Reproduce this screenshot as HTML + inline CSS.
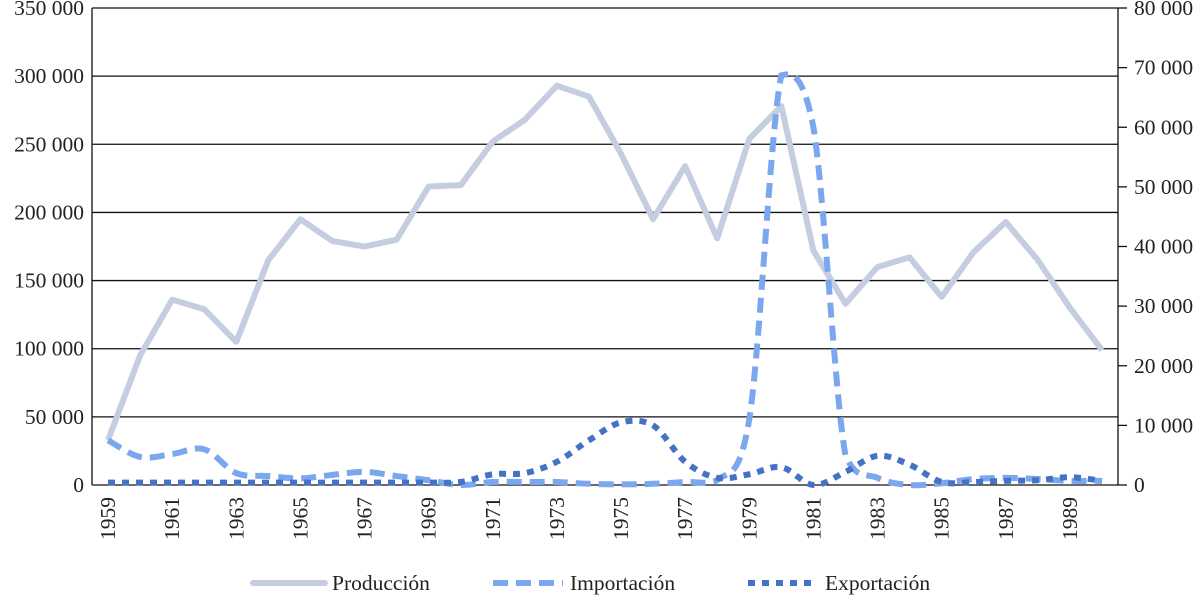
<!DOCTYPE html>
<html><head><meta charset="utf-8"><style>
body{margin:0;background:#fff;}
svg text{font-family:"Liberation Serif",serif;font-size:21.5px;fill:#222;}
</style></head><body>
<svg id="c" width="1200" height="598" xmlns="http://www.w3.org/2000/svg"></svg>
<script>
const s=document.getElementById('c');
let h='';
const X0=92,X1=1118,Y0=485,Y1=8,H=Y0-Y1,step=(X1-X0)/32;
const xp=i=>X0+step/2+step*i;
const yl=v=>Y0-v/350000*H, yr=v=>Y0-v/80000*H;
for(let k=0;k<=7;k++){const y=yl(k*50000);
 h+=`<line x1="${X0}" x2="${X1}" y1="${y}" y2="${y}" stroke="#111" stroke-width="1.3"/>`;
 h+=`<text x="84" y="${y+7}" text-anchor="end">${k==0?'0':(k*50)+' 000'}</text>`;}
h+=`<line x1="${X0}" x2="${X0}" y1="${Y1}" y2="${Y0}" stroke="#111" stroke-width="1.3"/>`;
h+=`<line x1="${X1}" x2="${X1}" y1="${Y1}" y2="${Y0}" stroke="#111" stroke-width="1.3"/>`;
for(let k=0;k<=8;k++){const y=yr(k*10000);
 h+=`<line x1="${X1}" x2="${X1+9}" y1="${y}" y2="${y}" stroke="#111" stroke-width="1.3"/>`;
 h+=`<text x="1134" y="${y+7}">${k==0?'0':(k*10)+' 000'}</text>`;}
for(let i=0;i<32;i+=2){const x=xp(i)+7;
 h+=`<text transform="translate(${x},497) rotate(-90)" text-anchor="end">${1959+i}</text>`;}
const prod=[33000,95000,136000,129000,105000,165000,195000,179000,175000,180000,219000,220000,252000,268000,293000,285000,243000,195000,234000,181000,254000,278000,172000,133000,160000,167000,138000,171000,193000,165000,130000,99000];
const imp=[7500,4700,5200,6000,2000,1500,1100,1700,2200,1500,800,0,500,500,500,200,100,200,500,800,11000,68700,60000,5000,1200,0,300,1000,1200,1000,700,700];
const exp=[400,400,400,400,400,400,400,400,400,400,400,500,1800,2000,3900,7500,10500,10000,3900,1200,1800,3000,0,2200,4900,3400,500,500,700,800,1300,700];
function smooth(pts){let d=`M${pts[0][0]},${pts[0][1]}`;
 for(let i=0;i<pts.length-1;i++){const p0=pts[i-1]||pts[i],p1=pts[i],p2=pts[i+1],p3=pts[i+2]||p2;
  const lo=Math.min(p1[1],p2[1])-3,hi=Math.max(p1[1],p2[1])+3,cl=v=>Math.max(lo,Math.min(hi,v));
  const c1=[p1[0]+(p2[0]-p0[0])/6,cl(p1[1]+(p2[1]-p0[1])/6)],c2=[p2[0]-(p3[0]-p1[0])/6,cl(p2[1]-(p3[1]-p1[1])/6)];
  d+=`C${c1[0]},${c1[1]} ${c2[0]},${c2[1]} ${p2[0]},${p2[1]}`;}return d;}
h+=`<polyline fill="none" stroke="#c5cde0" stroke-width="6" stroke-linejoin="round" points="${prod.map((v,i)=>xp(i)+','+yl(v)).join(' ')}"/>`;
h+=`<path fill="none" stroke="#7ba7ee" stroke-width="6" stroke-dasharray="15,8" d="${smooth(imp.map((v,i)=>[xp(i),yr(v)]))}"/>`;
h+=`<path fill="none" stroke="#4472c4" stroke-width="6" stroke-dasharray="7,7" d="${smooth(exp.map((v,i)=>[xp(i),yr(v)]))}"/>`;
h+=`<line x1="253" x2="325" y1="583" y2="583" stroke="#c5cde0" stroke-width="6" stroke-linecap="round"/><text x="332" y="590">Producción</text>`;
h+=`<line x1="493" x2="563" y1="583" y2="583" stroke="#7ba7ee" stroke-width="6" stroke-dasharray="15,8"/><text x="570" y="590">Importación</text>`;
h+=`<line x1="748" x2="818" y1="583" y2="583" stroke="#4472c4" stroke-width="6" stroke-dasharray="7,7"/><text x="825" y="590">Exportación</text>`;
s.innerHTML=h;
</script>
</body></html>
